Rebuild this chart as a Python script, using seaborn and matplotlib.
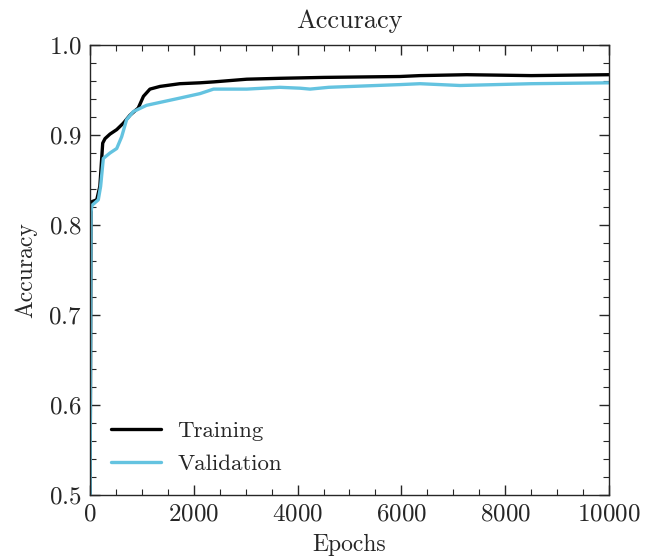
import pandas as pd
import matplotlib.pyplot as plt
import seaborn as sns
from matplotlib.ticker import MultipleLocator

# values
train_epochs = [0, 20, 40, 130, 190, 245, 290, 385, 515, 640, 770, 930, 1030, 1155,
                1350, 1730, 2120, 2380, 3020, 3660, 4500, 5970, 6360, 7260, 8500, 10000]
train_acc = [0.45, 0.82, 0.826, 0.828, 0.843, 0.891, 0.896, 0.901, 0.906, 0.913, 0.922,
             0.930, 0.943, 0.951, 0.954, 0.957, 0.958, 0.959, 0.962, 0.963, 0.964,
             0.965, 0.966, 0.967, 0.966, 0.967]

val_epochs = [0, 20, 40, 160, 205, 257, 385, 515, 610, 705, 835, 1090, 1410, 1730,
              2120, 2380, 3020, 3660, 4050, 4240, 4600, 5970, 6360, 7130, 8500, 10000]
val_acc = [0.45, 0.815, 0.822, 0.828, 0.843, 0.874, 0.880, 0.885, 0.898, 0.917, 0.926,
           0.933, 0.937, 0.941, 0.946, 0.951, 0.951, 0.953, 0.952, 0.951, 0.953,
           0.956, 0.957, 0.955, 0.957, 0.958]

series_names = ['Training', 'Validation']
series_colors = ['#000000', '#64C3E0']


def build_frame():
    train = pd.DataFrame({'Epochs': train_epochs, 'Accuracy': train_acc, 'set': series_names[0]})
    val = pd.DataFrame({'Epochs': val_epochs, 'Accuracy': val_acc, 'set': series_names[1]})
    return pd.concat([train, val], ignore_index=True)


def plot(df):
    sns.set_style('ticks')
    plt.rcParams['font.family'] = 'serif'
    plt.rcParams['font.serif'] = ['cmr10', 'DejaVu Serif']
    plt.rcParams['axes.formatter.use_mathtext'] = True
    plt.rcParams['mathtext.fontset'] = 'cm'

    fig = plt.figure(figsize=(6.54, 5.57), dpi=100)
    ax = fig.add_axes([0.1376, 0.1113, 0.7936, 0.8079])

    sns.lineplot(data=df, x='Epochs', y='Accuracy', hue='set',
                 palette=dict(zip(series_names, series_colors)),
                 linewidth=2.4, ax=ax)

    ax.set_xlim(0, 10000)
    ax.set_ylim(0.5, 1.0)
    ax.xaxis.set_major_locator(MultipleLocator(2000))
    ax.xaxis.set_minor_locator(MultipleLocator(500))
    ax.yaxis.set_major_locator(MultipleLocator(0.1))
    ax.yaxis.set_minor_locator(MultipleLocator(0.02))
    ax.tick_params(which='both', direction='in', top=True, right=True, labelsize=18, pad=6)
    ax.tick_params(which='major', length=7, width=1)
    ax.tick_params(which='minor', length=4, width=0.8)
    for s in ax.spines.values():
        s.set_linewidth(1)

    ax.set_title('Accuracy', fontsize=19, pad=12)
    ax.set_xlabel('Epochs', fontsize=17, labelpad=6)
    ax.set_ylabel('Accuracy', fontsize=17, labelpad=8)

    leg = ax.legend(loc='lower left', frameon=False, fontsize=16.5,
                    handlelength=2.2, handletextpad=0.7, labelspacing=0.6,
                    borderaxespad=0.5, borderpad=0.4)
    for line in leg.get_lines():
        line.set_linewidth(2.4)

    fig.savefig('out.png', dpi=100)


def main():
    df = build_frame()
    plot(df)


if __name__ == "__main__":
    main()
